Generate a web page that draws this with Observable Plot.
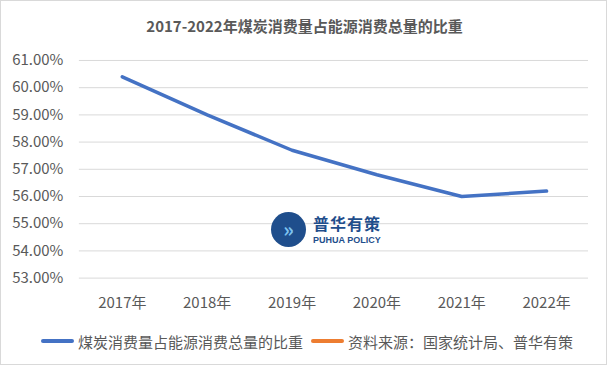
<!DOCTYPE html>
<html><head><meta charset="utf-8">
<script src="https://cdn.jsdelivr.net/npm/d3@7"></script>
<script src="https://cdn.jsdelivr.net/npm/@observablehq/plot@0.6"></script>
<style>
body{margin:0;background:#fff;font-family:"Noto Sans CJK SC","Noto Sans",sans-serif;}
#wrap{position:relative;width:607px;height:365px;box-sizing:border-box;border:1px solid #d9d9d9;background:#fff;overflow:hidden;}
#title{position:absolute;top:14px;left:0;width:607px;text-align:center;font-size:15px;font-weight:bold;color:#595959;}
#chart{position:absolute;top:45px;left:-1px;}
#legend{position:absolute;top:329px;left:0;width:607px;font-size:15px;color:#595959;}
.li{position:absolute;top:0;display:flex;align-items:center;height:22px;}
.sw{display:inline-block;width:33px;height:4px;border-radius:2px;margin-right:4px;}
#logo{position:absolute;left:270px;top:211px;display:flex;align-items:center;}
#logo .c{width:35px;height:35px;border-radius:50%;background:#1f4e8c;margin-right:7px;color:#7ec3f0;font-size:20px;font-weight:bold;text-align:center;line-height:33px;}
#logo .t1{font-size:16px;font-weight:bold;color:#1f4e8c;line-height:18px;height:18px;letter-spacing:1px;}
#logo .t2{font-size:9px;font-weight:bold;color:#1f4e8c;line-height:10px;height:10px;margin-top:3px;font-family:"Liberation Sans",sans-serif;white-space:nowrap;}
</style></head>
<body>
<div id="wrap">
  <div id="title">2017-2022年煤炭消费量占能源消费总量的比重</div>
  <div id="chart"></div>
  <div id="logo"><div class="c">»</div><div><div class="t1">普华有策</div><div class="t2">PUHUA POLICY</div></div></div>
  <div id="legend"></div>
</div>
<script>
const years = ["2017年","2018年","2019年","2020年","2021年","2022年"];
const shares = [60.4, 59.0, 57.7, 56.8, 56.0, 56.2];
const yTicks = [53, 54, 55, 56, 57, 58, 59, 60, 61];
const seriesName = "煤炭消费量占能源消费总量的比重";
const sourceNote = "资料来源：国家统计局、普华有策";
const colors = ["#4472C4", "#ED7D31"];

const data = years.map((y, i) => ({year: y, value: shares[i]}));

const chart = Plot.plot({
  width: 607,
  height: 270,
  marginLeft: 79,
  marginRight: 18,
  marginTop: 14,
  marginBottom: 38,
  style: {fontFamily: '"Noto Sans CJK SC","Noto Sans",sans-serif', fontSize: "15px", color: "#595959", background: "transparent"},
  x: {type: "point", domain: years, padding: 0.5, label: null},
  y: {domain: [53, 61], label: null},
  marks: [
    Plot.gridY(yTicks, {stroke: "#d9d9d9", strokeOpacity: 1, strokeWidth: 1}),
    Plot.axisY(yTicks, {tickSize: 0, tickPadding: 16, tickFormat: d => d.toFixed(2) + "%", fontSize: 15, fill: "#595959", label: null}),
    Plot.axisX({tickSize: 0, tickPadding: 19, fontSize: 15, fill: "#595959", label: null}),
    Plot.line(data, {x: "year", y: "value", stroke: colors[0], strokeWidth: 3.5, strokeLinecap: "round", strokeLinejoin: "round"})
  ]
});
document.getElementById("chart").appendChild(chart);

const legend = document.getElementById("legend");
const items = [{label: seriesName, color: colors[0], left: 40}, {label: sourceNote, color: colors[1], left: 310}];
for (const it of items) {
  const d = document.createElement("div");
  d.className = "li";
  d.style.left = it.left + "px";
  const s = document.createElement("span");
  s.className = "sw";
  s.style.background = it.color;
  d.appendChild(s);
  d.appendChild(document.createTextNode(it.label));
  legend.appendChild(d);
}
</script>
</body></html>
